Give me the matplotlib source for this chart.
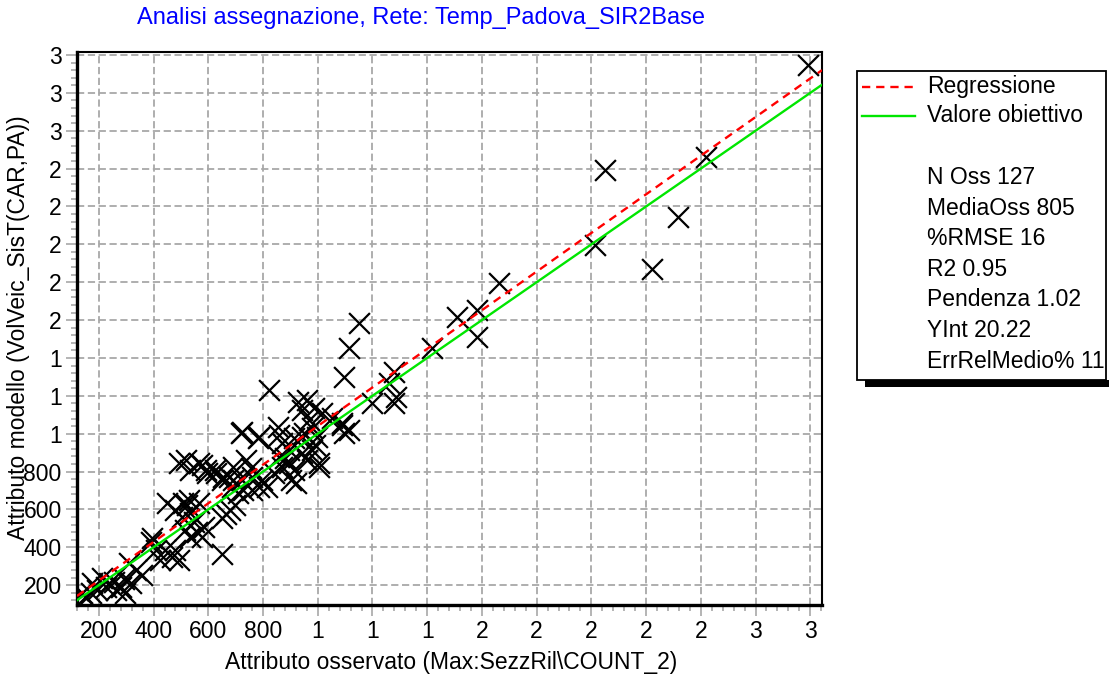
import numpy as np
import matplotlib
matplotlib.use("Agg")
import matplotlib.pyplot as plt
from matplotlib.ticker import MultipleLocator, FuncFormatter
from matplotlib.patches import Rectangle
from matplotlib.lines import Line2D

plt.rcParams['font.family'] = ['Liberation Sans', 'DejaVu Sans']

oss = [151, 176, 194, 170, 212, 236, 255, 261, 279, 297, 309, 316, 334, 358, 140, 225, 290,
       389, 395, 407, 425, 443, 468, 480, 492, 449, 480, 504, 522, 534, 546, 565, 516, 559,
       577, 583, 534, 650, 650, 680, 698, 665, 506, 531,
       492, 534, 577, 595, 625, 650, 674, 692, 686, 710, 723, 519, 567, 592, 628, 652, 689,
       737, 756, 761, 798, 816, 725, 786,
       840, 859, 871, 895, 914, 901, 944, 962, 980, 1005, 920, 719, 780, 853, 859, 914, 950,
       980, 998, 1090, 1096, 724, 786, 943, 870, 895, 1004, 1015, 968, 1052, 1088, 1114,
       823, 926, 962, 986, 944, 990, 880, 760,
       1095, 1114, 1151, 1278, 1260, 1285, 1278, 1198, 1417, 1508, 1581, 1581, 1661, 2014,
       2050, 2222, 2317, 2419, 2791]
mod = [138, 210, 174, 158, 237, 210, 217, 174, 191, 158, 315, 210, 279, 253, 160, 190, 230,
       429, 448, 385, 332, 385, 350, 385, 332, 632, 596, 561, 623, 579, 534, 632, 490, 482,
       455, 508, 455, 367, 552, 596, 623, 575, 632, 649,
       843, 808, 834, 790, 808, 755, 772, 825, 719, 684, 755, 860, 843, 808, 790, 772, 755,
       860, 817, 772, 755, 719, 702, 719,
       790, 878, 825, 843, 808, 755, 896, 860, 913, 825, 737, 1001, 975, 1036, 992, 975, 1001,
       1028, 983, 1045, 1001, 1008, 982, 982, 950, 913, 845, 1109, 1072, 1082, 1056, 1019,
       1230, 1168, 1177, 1133, 1124, 940, 870, 700,
       1299, 1452, 1584, 1325, 1267, 1193, 1161, 1161, 1452, 1616, 1653, 1510, 1795, 1996,
       2392, 1869, 2144, 2461, 2947]

pendenza = 1.02
yint = 20.22
statistiche = ["N Oss 127", "MediaOss 805", "%RMSE 16", "R2 0.95",
               "Pendenza 1.02", "YInt 20.22", "ErrRelMedio% 11"]

W, H = 1109, 678
FS = 16.5
fig = plt.figure(figsize=(W / 100, H / 100), dpi=100)
ax = fig.add_axes([77 / W, 1 - 605 / H, (822 - 77) / W, (605 - 52) / H])

xmin, xmax = 120, 2843
ymin, ymax = 95, 3016
ax.set_xlim(xmin, xmax)
ax.set_ylim(ymin, ymax)

ax.scatter(oss, mod, marker='x', s=15 ** 2, c='black', linewidths=1.6, zorder=3)

xx = np.array([xmin, xmax])
ax.plot(xx, pendenza * xx + yint, color='#ff0000', lw=1.7, dashes=(3.5, 2.5), zorder=4)
ax.plot(xx, xx, color='#00e600', lw=1.7, zorder=4)

# assi e griglia
def fmt(v, pos):
    return f"{v:.0f}" if v < 1000 else f"{round(v / 1000)}"

for a in (ax.xaxis, ax.yaxis):
    a.set_major_locator(MultipleLocator(200))
    a.set_minor_locator(MultipleLocator(40))
    a.set_major_formatter(FuncFormatter(fmt))

ax.tick_params(which='major', direction='out', length=8, width=1.2, color='#a8a8a8',
               labelsize=FS, pad=3)
ax.tick_params(which='minor', direction='out', length=4, width=1.2, color='#a8a8a8')
ax.grid(True, which='major', color='#a8a8a8', lw=1.3, dashes=(4, 2))
ax.set_axisbelow(True)

ax.spines['left'].set_linewidth(2.4)
ax.spines['bottom'].set_linewidth(2.4)
ax.spines['top'].set_linewidth(1.5)
ax.spines['right'].set_linewidth(1.5)

fig.text(137 / W, 1 - 18 / H, "Analisi assegnazione, Rete: Temp_Padova_SIR2Base",
         color='#0000ff', fontsize=17, ha='left', va='center')
fig.text(451 / W, 1 - 663 / H, "Attributo osservato (Max:SezzRil\\COUNT_2)",
         fontsize=FS, ha='center', va='center')
fig.text(19 / W, 1 - 328 / H, "Attributo modello (VolVeic_SisT(CAR,PA))",
         fontsize=FS, ha='center', va='center', rotation=90)

# riquadro legenda con ombra
fig.patches.append(Rectangle((865 / W, 1 - 387 / H), (1109 - 865) / W, 7 / H,
                             transform=fig.transFigure, facecolor='black', edgecolor='none'))
fig.patches.append(Rectangle((857 / W, 1 - 380 / H), (1106 - 857) / W, (380 - 71) / H,
                             transform=fig.transFigure, facecolor='white', edgecolor='black',
                             lw=1.3))
fig.lines.append(Line2D([862 / W, 915 / W], [1 - 87 / H, 1 - 87 / H], transform=fig.transFigure,
                        color='#ff0000', lw=1.7, dashes=(3.5, 2.5)))
fig.lines.append(Line2D([862 / W, 915 / W], [1 - 116 / H, 1 - 116 / H], transform=fig.transFigure,
                        color='#00e600', lw=1.7))
fig.text(927 / W, 1 - 87 / H, "Regressione", fontsize=FS, va='center')
fig.text(927 / W, 1 - 116 / H, "Valore obiettivo", fontsize=FS, va='center')
for i, s in enumerate(statistiche):
    fig.text(927 / W, 1 - (178 + i * 30.5) / H, s, fontsize=FS, va='center')

fig.savefig("out.png", dpi=100)
